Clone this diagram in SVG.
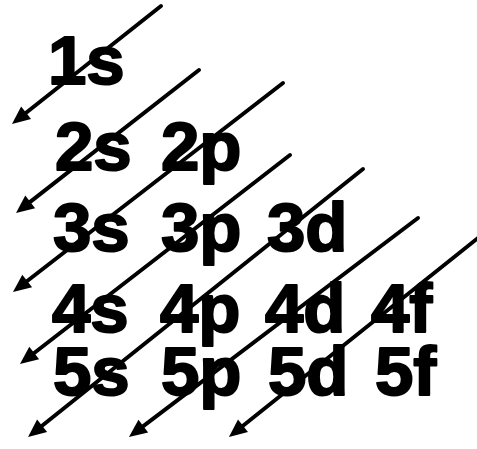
<svg xmlns="http://www.w3.org/2000/svg" width="477" height="449" viewBox="0 0 477 449">
<style>
.lbl{font-family:"Liberation Sans",Arial,sans-serif;font-weight:bold;font-size:69px;fill:#000;stroke:#000;stroke-width:2;stroke-linejoin:round}
.arr{stroke:#000;stroke-width:4;fill:none;stroke-linecap:round;marker-end:url(#ah)}
</style>
<defs>
<marker id="ah" markerUnits="userSpaceOnUse" markerWidth="24" markerHeight="24" refX="0" refY="0" orient="auto" overflow="visible">
<path d="M0,-8 L18,0 L0,8 z" fill="#000"/>
</marker>
</defs>
<rect width="477" height="449" fill="#fff"/>
<g id="labels">
<g id="n1s"><text class="lbl" x="48" y="84">1s</text></g>
<g id="n2s"><text class="lbl" x="55" y="170">2s</text></g>
<g id="n2p"><text class="lbl" x="161" y="170">2p</text></g>
<g id="n3s"><text class="lbl" x="53" y="251">3s</text></g>
<g id="n3p"><text class="lbl" x="161" y="251">3p</text></g>
<g id="n3d"><text class="lbl" x="267" y="251">3d</text></g>
<g id="n4s"><text class="lbl" x="52" y="332">4s</text></g>
<g id="n4p"><text class="lbl" x="160" y="332">4p</text></g>
<g id="n4d"><text class="lbl" x="265" y="332">4d</text></g>
<g id="n4f"><text class="lbl" x="371" y="332">4f</text></g>
<g id="n5s"><text class="lbl" x="53" y="395">5s</text></g>
<g id="n5p"><text class="lbl" x="161" y="395">5p</text></g>
<g id="n5d"><text class="lbl" x="268" y="395">5d</text></g>
<g id="n5f"><text class="lbl" x="375" y="395">5f</text></g>
</g>
<g id="connectors">
<line class="arr" x1="161" y1="6" x2="26.1" y2="112.8"/>
<line class="arr" x1="199" y1="70" x2="30.2" y2="201.9"/>
<line class="arr" x1="283" y1="83" x2="27.2" y2="281"/>
<line class="arr" x1="290" y1="155" x2="34.2" y2="353"/>
<line class="arr" x1="363" y1="169" x2="42.1" y2="425.8"/>
<line class="arr" x1="418" y1="218" x2="143.3" y2="426.1"/>
<line class="arr" x1="478" y1="238" x2="243" y2="425.7"/>
</g>
</svg>
